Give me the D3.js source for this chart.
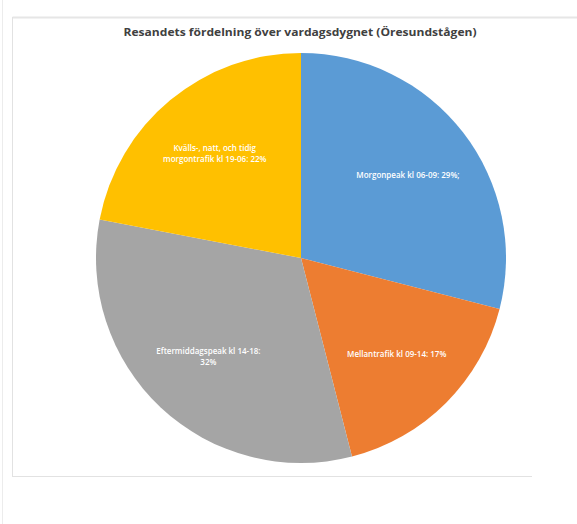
<!DOCTYPE html>
<html>
<head>
<meta charset="utf-8">
<script src="https://cdn.jsdelivr.net/npm/d3@7"></script>
<style>
  body { margin: 0; background: #fff; }
</style>
</head>
<body>
<div id="chart"></div>
<script>
// data
const categories = [
  "Morgonpeak kl 06-09: 29%;",
  "Mellantrafik kl 09-14: 17%",
  "Eftermiddagspeak kl 14-18:|32%",
  "Kvälls-, natt, och tidig|morgontrafik kl 19-06: 22%"
];
const shares = [29, 17, 32, 22];
const sliceColors = ["#5b9bd5", "#ed7d31", "#a5a5a5", "#ffc000"];

const W = 577, H = 524;
const cx = 301, cy = 258, radius = 205;

const svg = d3.select("#chart")
  .append("svg")
    .attr("width", W)
    .attr("height", H);

// chart frame (faint, like the scanned one)
svg.append("line").attr("x1", 2.5).attr("x2", 2.5).attr("y1", 0).attr("y2", H)
  .attr("stroke", "#ececec");
svg.append("line").attr("x1", 12.5).attr("x2", W).attr("y1", 17.5).attr("y2", 17.5)
  .attr("stroke", "#e6e6e6").attr("stroke-width", 2);
svg.append("line").attr("x1", 12.5).attr("x2", 12.5).attr("y1", 17).attr("y2", 476)
  .attr("stroke", "#e2e2e2");
svg.append("line").attr("x1", 12).attr("x2", 532).attr("y1", 476.5).attr("y2", 476.5)
  .attr("stroke", "#e2e2e2");

// title
svg.append("text")
  .attr("x", 300)
  .attr("y", 36)
  .attr("text-anchor", "middle")
  .attr("font-family", "'Open Sans', sans-serif")
  .attr("font-weight", "bold")
  .attr("font-size", "11px")
  .attr("fill", "#404040")
  .attr("textLength", 353)
  .attr("lengthAdjust", "spacingAndGlyphs")
  .text("Resandets fördelning över vardagsdygnet (Öresundstågen)");

const pie = d3.pie().sort(null).value(d => d)(shares);
const arc = d3.arc().innerRadius(0).outerRadius(radius);
const labelArc = d3.arc().innerRadius(0).outerRadius(radius * 1.32);

const g = svg.append("g").attr("transform", `translate(${cx},${cy})`);

g.selectAll("path")
  .data(pie)
  .join("path")
    .attr("d", arc)
    .attr("fill", (d, i) => sliceColors[i]);

const labels = g.selectAll("text")
  .data(pie)
  .join("text")
    .attr("transform", d => `translate(${labelArc.centroid(d)})`)
    .attr("text-anchor", "middle")
    .attr("font-family", "'Open Sans', sans-serif")
    .attr("font-weight", "600")
    .attr("font-size", "8px")
    .attr("fill", "#fff");

labels.each(function(d, i) {
  const lines = categories[i].split("|");
  const t = d3.select(this);
  lines.forEach((ln, j) => {
    t.append("tspan")
      .attr("x", 0)
      .attr("y", (j - (lines.length - 1) / 2) * 10.5 + 3)
      .text(ln);
  });
});
</script>
</body>
</html>
